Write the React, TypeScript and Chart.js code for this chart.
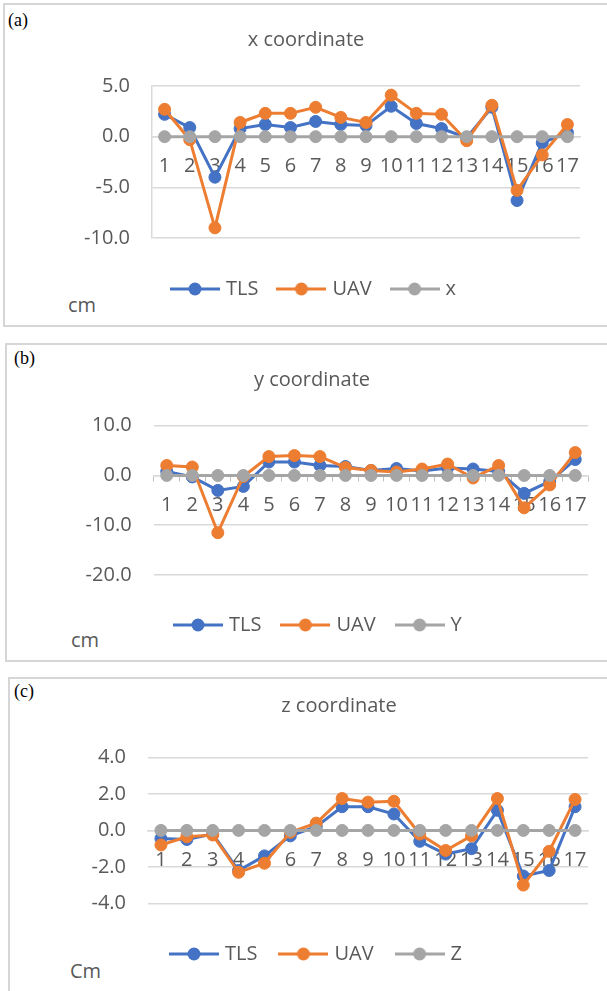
import React, { useEffect, useRef } from "react";
import { Chart, registerables } from "chart.js";

Chart.register(...registerables);

// ---------- data ----------
const categories = ["1", "2", "3", "4", "5", "6", "7", "8", "9", "10", "11", "12", "13", "14", "15", "16", "17"];

const tlsX = [2.2, 0.9, -4.0, 0.8, 1.2, 0.9, 1.5, 1.2, 1.1, 3.0, 1.3, 0.8, -0.1, 2.9, -6.3, -0.6, 0.4];
const uavX = [2.7, -0.3, -9.0, 1.4, 2.3, 2.3, 2.9, 1.9, 1.4, 4.1, 2.3, 2.2, -0.4, 3.1, -5.3, -1.8, 1.2];
const refX = [0, 0, 0, 0, 0, 0, 0, 0, 0, 0, 0, 0, 0, 0, 0, 0, 0];

const tlsY = [0.8, -0.3, -3.0, -2.2, 2.7, 2.7, 2.0, 1.8, 1.0, 1.4, 0.9, 1.5, 1.3, 0.8, -3.6, -1.2, 3.2];
const uavY = [2.0, 1.7, -11.5, -0.2, 3.8, 4.0, 3.8, 1.6, 1.0, 0.7, 1.3, 2.3, -0.5, 2.0, -6.5, -1.9, 4.6];
const refY = [0, 0, 0, 0, 0, 0, 0, 0, 0, 0, 0, 0, 0, 0, 0, 0, 0];

const tlsZ = [-0.45, -0.5, -0.2, -2.2, -1.4, -0.3, 0.2, 1.3, 1.3, 0.9, -0.6, -1.3, -1.0, 1.1, -2.5, -2.2, 1.3];
const uavZ = [-0.8, -0.35, -0.25, -2.3, -1.8, -0.1, 0.4, 1.75, 1.55, 1.6, -0.2, -1.1, -0.3, 1.75, -3.0, -1.15, 1.7];
const refZ = [0, 0, 0, 0, 0, 0, 0, 0, 0, 0, 0, 0, 0, 0, 0, 0, 0];

// axis ranges: [min, max, step]
const rangeX = [-10, 5, 5];
const rangeY = [-20, 10, 10];
const rangeZ = [-4, 4, 2];

const seriesNames = ["TLS", "UAV"];

// ---------- styles ----------
const BLUE = "#4472C4";
const ORANGE = "#ED7D31";
const GREY = "#A5A5A5";
const TEXT = "#595959";
const GRID = "#d9d9d9";
const FONT = "'Open Sans', 'Noto Sans', sans-serif";

function swatch(color: string) {
  const c = document.createElement("canvas");
  c.width = 50;
  c.height = 16;
  const g = c.getContext("2d")!;
  g.strokeStyle = color;
  g.lineWidth = 3;
  g.beginPath();
  g.moveTo(0, 8);
  g.lineTo(50, 8);
  g.stroke();
  g.fillStyle = color;
  g.beginPath();
  g.arc(25, 8, 6.5, 0, Math.PI * 2);
  g.fill();
  return c;
}

type Panel = {
  title: string;
  refName: string;
  tls: number[];
  uav: number[];
  ref: number[];
  range: number[];
  cy: number;
  H: number;
  padL: number;
  yW: number;
  rW: number;
  tTop: number;
  tBot: number;
  hx: number;
  padB: number;
  yPad: number;
  xPad: number;
  legPad: number;
  xTicks: boolean;
  yBorder: boolean;
};

const panels: Panel[] = [
  { title: "x coordinate", refName: "x", tls: tlsX, uav: uavX, ref: refX, range: rangeX,
    cy: 0, H: 320, padL: 5, yW: 147, rW: 27, tTop: 28, tBot: 34, hx: 19, padB: 11, yPad: 22, xPad: 18, legPad: 22, xTicks: false, yBorder: true },
  { title: "y coordinate", refName: "Y", tls: tlsY, uav: uavY, ref: refY, range: rangeY,
    cy: 340, H: 320, padL: 17, yW: 137, rW: 19, tTop: 28, tBot: 33.7, hx: 17, padB: 15, yPad: 22.4, xPad: 13, legPad: 23, xTicks: true, yBorder: false },
  { title: "z coordinate", refName: "Z", tls: tlsZ, uav: uavZ, ref: refZ, range: rangeZ,
    cy: 670, H: 321, padL: 71, yW: 77, rW: 19, tTop: 24, tBot: 39.5, hx: 15.7, padB: 17, yPad: 22, xPad: 18, legPad: 25, xTicks: false, yBorder: false },
];

function ds(label: string, data: number[], color: string, order: number) {
  return {
    label,
    data,
    borderColor: color,
    backgroundColor: color,
    borderWidth: 3,
    pointRadius: 6,
    pointBorderWidth: 1,
    pointBackgroundColor: color,
    pointBorderColor: color,
    pointHoverRadius: 6,
    tension: 0,
    order,
    xAxisID: "x",
    yAxisID: "y",
  };
}

function makeConfig(p: Panel): any {
  const font = { family: FONT, size: 20, weight: "normal" as const };
  return {
    type: "line",
    data: {
      labels: categories,
      datasets: [
        ds(seriesNames[0], p.tls, BLUE, 3),
        ds(seriesNames[1], p.uav, ORANGE, 2),
        ds(p.refName, p.ref, GREY, 1),
      ],
    },
    options: {
      responsive: false,
      animation: false,
      events: [],
      layout: { padding: { left: p.padL, right: 0, top: 0, bottom: p.padB } },
      plugins: {
        title: {
          display: true,
          text: p.title,
          color: TEXT,
          font,
          padding: { top: p.tTop, bottom: p.tBot },
        },
        legend: {
          display: true,
          position: "bottom",
          fullSize: false,
          align: "start",
          labels: {
            usePointStyle: true,
            pointStyleWidth: 42,
            padding: p.legPad,
            color: TEXT,
            font,
            generateLabels: (chart: any) =>
              chart.data.datasets.map((d: any, i: number) => ({
                text: d.label,
                pointStyle: swatch(d.borderColor),
                fontColor: TEXT,
                fillStyle: d.borderColor,
                strokeStyle: d.borderColor,
                lineWidth: 0,
                hidden: false,
                datasetIndex: i,
              })),
          },
        },
        tooltip: { enabled: false },
      },
      scales: {
        x: {
          type: "category",
          position: { y: 0 },
          offset: true,
          grid: {
            display: p.xTicks,
            drawOnChartArea: false,
            drawTicks: p.xTicks,
            tickLength: 5,
            offset: true,
            color: "#bfbfbf",
            lineWidth: 1,
          },
          border: { display: true, color: GRID, width: 1.5 },
          ticks: {
            color: TEXT,
            font,
            padding: p.xPad,
            autoSkip: false,
            maxRotation: 0,
            minRotation: 0,
          },
        },
        y: {
          type: "linear",
          position: "left",
          min: p.range[0],
          max: p.range[1],
          ticks: {
            stepSize: p.range[2],
            padding: p.yPad,
            color: TEXT,
            font,
            callback: (v: any) => Number(v).toFixed(1),
          },
          grid: { color: GRID, lineWidth: 1.5, drawTicks: false },
          border: { display: p.yBorder, color: GRID, width: 1.5 },
          afterFit: (s: any) => {
            s.width = p.yW;
          },
        },
        xpad: {
          type: "linear",
          axis: "x",
          position: "bottom",
          display: true,
          grid: { display: false, drawTicks: false },
          border: { display: false },
          ticks: { display: false },
          afterFit: (s: any) => {
            s.height = p.hx;
          },
        },
        ypad: {
          type: "linear",
          axis: "y",
          position: "right",
          display: true,
          grid: { display: false, drawTicks: false },
          border: { display: false },
          ticks: { display: false },
          afterFit: (s: any) => {
            s.width = p.rW;
          },
        },
      },
    },
  };
}

function ChartCanvas({ p }: { p: Panel }) {
  const ref = useRef<HTMLCanvasElement | null>(null);
  useEffect(() => {
    if (!ref.current) return;
    const chart = new Chart(ref.current, makeConfig(p));
    return () => chart.destroy();
  }, [p]);
  return (
    <canvas
      ref={ref}
      width={607}
      height={p.H}
      style={{ position: "absolute", left: 0, top: p.cy, width: 607, height: p.H }}
    />
  );
}

const boxStyle = (left: number, top: number, height: number): React.CSSProperties => ({
  position: "absolute",
  left,
  top,
  width: 640,
  height,
  border: "2px solid #d6d6d6",
  boxSizing: "border-box",
  background: "#fff",
});

const panelLabel = (left: number, top: number): React.CSSProperties => ({
  position: "absolute",
  left,
  top,
  fontFamily: "'Liberation Serif', 'DejaVu Serif', serif",
  fontSize: 18,
  lineHeight: "20px",
  color: "#000",
});

const unitLabel = (left: number, top: number): React.CSSProperties => ({
  position: "absolute",
  left,
  top,
  fontFamily: FONT,
  fontSize: 20,
  lineHeight: "24px",
  color: TEXT,
});

export default function App() {
  return (
    <div
      style={{
        position: "absolute",
        left: 0,
        top: 0,
        width: 607,
        height: 991,
        overflow: "hidden",
        background: "#fff",
      }}
    >
      <div style={boxStyle(3, 3, 324)} />
      <div style={boxStyle(5, 343, 319)} />
      <div style={boxStyle(8, 677, 340)} />
      <div style={panelLabel(8, 10)}>(a)</div>
      <div style={panelLabel(14, 348)}>(b)</div>
      <div style={panelLabel(14, 681)}>(c)</div>
      <div style={unitLabel(68, 293)}>cm</div>
      <div style={unitLabel(71, 628)}>cm</div>
      <div style={unitLabel(70, 959)}>Cm</div>
      {panels.map((p, i) => (
        <ChartCanvas key={i} p={p} />
      ))}
    </div>
  );
}
